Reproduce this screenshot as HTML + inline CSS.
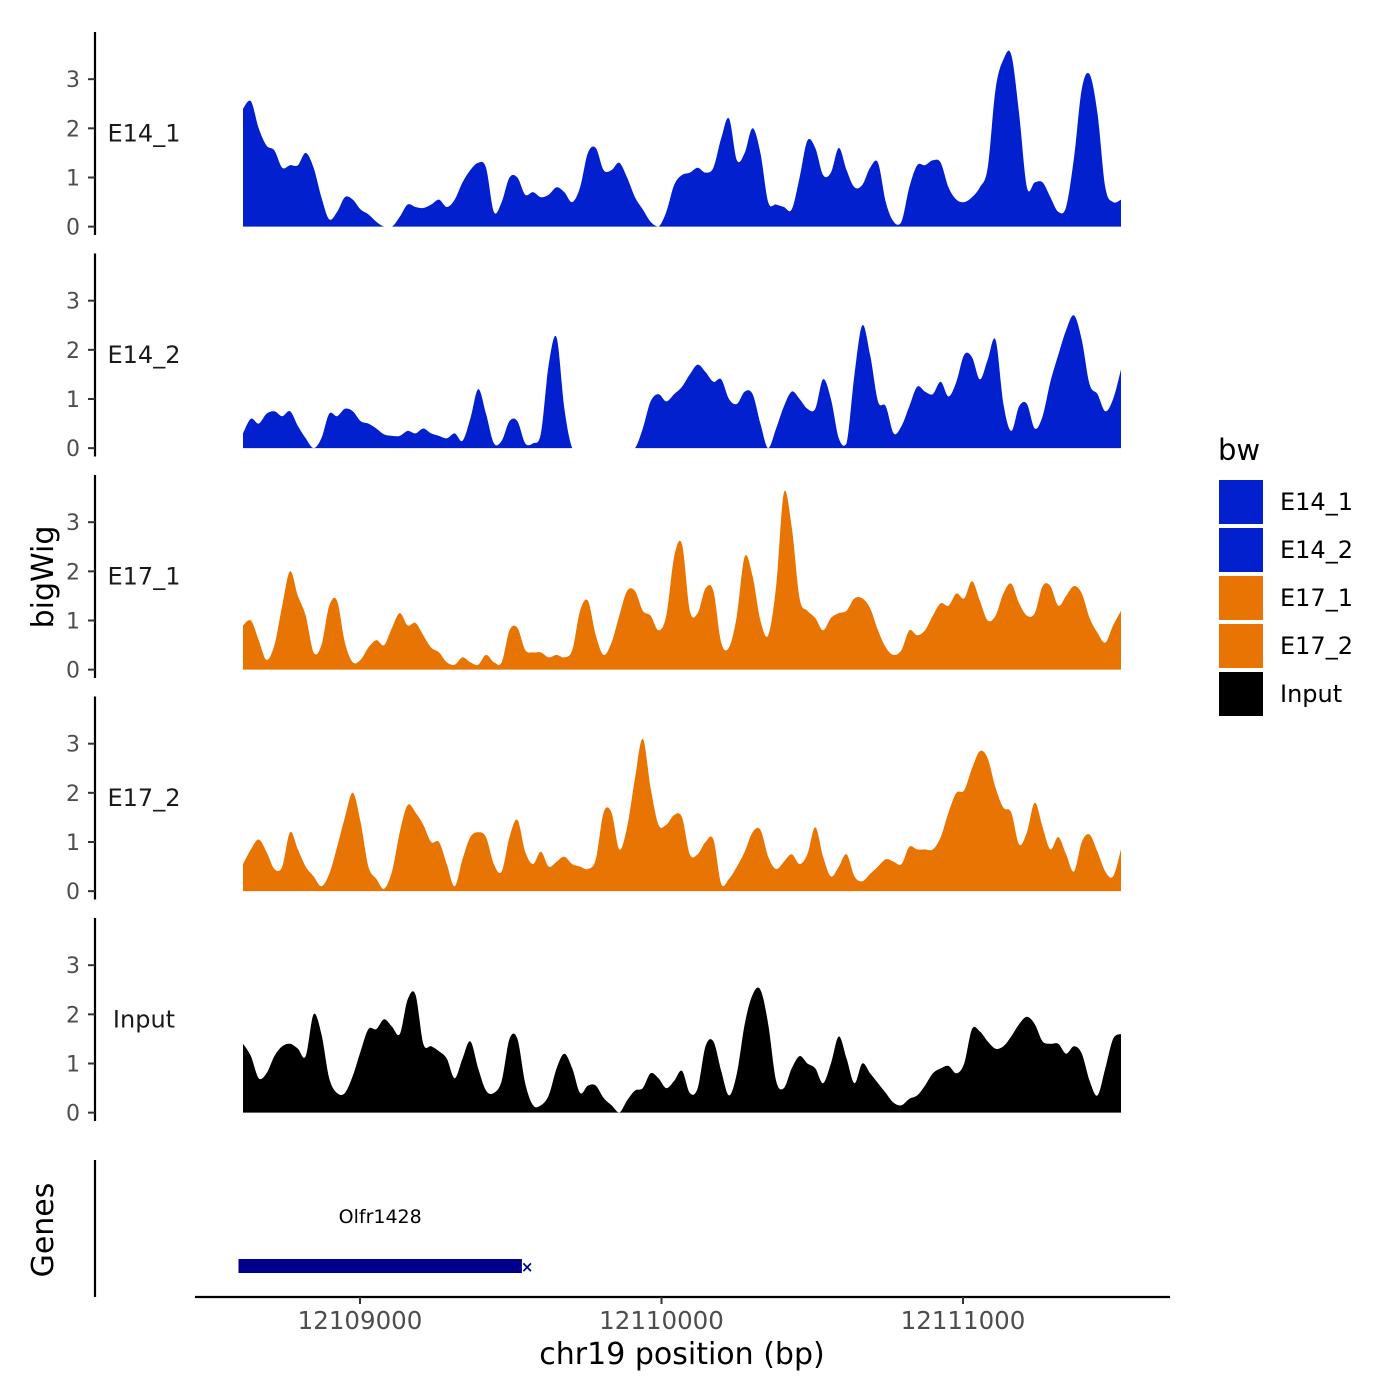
<!DOCTYPE html>
<html><head><meta charset="utf-8"><style>
html,body{margin:0;padding:0;background:#fff;}
svg{display:block;font-family:"DejaVu Sans","Liberation Sans",sans-serif;}
</style></head><body>
<svg id="chart" width="1400" height="1400" viewBox="0 0 1400 1400">
<rect x="0" y="0" width="1400" height="1400" fill="#fff"/>
<g id="panels"></g>
<g id="genes"></g>
<g id="xaxis"></g>
<text x="53" y="577" transform="rotate(-90 53 577)" text-anchor="middle" font-size="30" fill="#000">bigWig</text>
<text x="53" y="1230" transform="rotate(-90 53 1230)" text-anchor="middle" font-size="30" fill="#000">Genes</text>
<text x="682" y="1364" text-anchor="middle" font-size="30" fill="#000">chr19 position (bp)</text>
<g id="legend"></g>
</svg>
<script>
const trackNames = ["E14_1","E14_2","E17_1","E17_2","Input"];
const trackColors = ["#0320CF","#0320CF","#E87503","#E87503","#000000"];
const yTicks = [0,1,2,3];
const xTicks = [12109000,12110000,12111000];
const xTickLabels = ["12109000","12110000","12111000"];
const startBp = 12108612;
const stepBp = 26;
const e14_1 = [2.4,2.55,2.0,1.65,1.55,1.2,1.25,1.25,1.5,1.2,0.6,0.15,0.3,0.6,0.55,0.35,0.25,0.1,0,0,0.2,0.45,0.4,0.38,0.45,0.55,0.4,0.55,0.9,1.15,1.3,1.2,0.3,0.5,1.0,1.0,0.65,0.7,0.6,0.65,0.8,0.7,0.5,0.8,1.5,1.6,1.15,1.15,1.3,1.0,0.6,0.35,0.1,0,0.3,0.85,1.05,1.1,1.2,1.1,1.2,1.8,2.2,1.35,1.5,2.0,1.5,0.5,0.45,0.4,0.35,1.0,1.75,1.6,1.05,1.1,1.6,1.15,0.8,0.85,1.2,1.3,0.5,0.1,0.1,0.8,1.25,1.25,1.35,1.3,0.8,0.55,0.5,0.6,0.8,1.2,2.8,3.4,3.5,2.3,0.8,0.9,0.9,0.6,0.3,0.4,1.4,2.8,3.1,2.3,0.8,0.5,0.55];
const e14_2 = [0.3,0.6,0.5,0.7,0.75,0.65,0.75,0.45,0.2,0,0.2,0.7,0.65,0.8,0.75,0.55,0.5,0.4,0.28,0.25,0.25,0.35,0.3,0.4,0.3,0.25,0.2,0.3,0.15,0.6,1.2,0.7,0.1,0.15,0.55,0.55,0.1,0.1,0.3,1.7,2.25,0.8,0,0,0,0,0,0,0,0,0,0.4,0.95,1.1,0.95,1.1,1.25,1.5,1.7,1.55,1.35,1.4,1.0,0.9,1.15,1.1,0.5,0,0.4,0.85,1.15,1.0,0.8,0.8,1.4,1.0,0.2,0.1,1.5,2.5,1.9,0.95,0.85,0.3,0.45,0.85,1.25,1.15,1.1,1.35,1.05,1.35,1.9,1.85,1.4,1.8,2.2,0.9,0.35,0.85,0.9,0.4,0.65,1.35,1.9,2.4,2.7,2.2,1.3,1.1,0.75,1.0,1.6];
const e17_1 = [0.9,1.0,0.6,0.2,0.5,1.3,2.0,1.5,1.1,0.35,0.5,1.3,1.4,0.55,0.15,0.2,0.45,0.6,0.5,0.85,1.15,0.9,0.95,0.7,0.45,0.35,0.15,0.1,0.25,0.15,0.1,0.3,0.15,0.15,0.8,0.85,0.4,0.35,0.35,0.25,0.3,0.25,0.4,1.2,1.4,0.7,0.3,0.55,1.1,1.6,1.6,1.2,1.1,0.8,1.1,2.3,2.55,1.2,1.15,1.65,1.6,0.55,0.45,1.1,2.3,1.9,1.0,0.7,1.7,3.6,2.9,1.45,1.2,1.05,0.8,1.05,1.15,1.2,1.45,1.45,1.25,0.8,0.45,0.3,0.4,0.8,0.7,0.8,1.1,1.35,1.3,1.55,1.45,1.8,1.4,1.0,1.1,1.55,1.75,1.35,1.1,1.15,1.7,1.7,1.3,1.5,1.7,1.55,1.05,0.75,0.55,0.9,1.2];
const e17_2 = [0.55,0.85,1.05,0.8,0.45,0.5,1.2,0.85,0.5,0.3,0.1,0.35,0.9,1.5,2.0,1.4,0.5,0.25,0.05,0.4,1.2,1.75,1.6,1.35,1.0,1.0,0.55,0.1,0.65,1.1,1.2,1.1,0.55,0.4,1.1,1.45,0.8,0.55,0.8,0.5,0.6,0.7,0.55,0.5,0.45,0.65,1.6,1.6,0.85,1.3,2.3,3.1,2.1,1.35,1.35,1.55,1.5,0.75,0.75,1.0,1.05,0.15,0.25,0.5,0.8,1.2,1.25,0.7,0.45,0.6,0.75,0.55,0.75,1.3,0.7,0.3,0.5,0.75,0.3,0.2,0.35,0.5,0.65,0.6,0.55,0.9,0.85,0.85,0.85,1.1,1.6,2.0,2.05,2.5,2.85,2.7,2.1,1.7,1.6,0.95,1.2,1.8,1.3,0.85,1.1,0.75,0.4,1.0,1.15,0.8,0.4,0.3,0.85];
const input = [1.4,1.15,0.7,0.8,1.15,1.35,1.4,1.3,1.15,2.0,1.6,0.7,0.4,0.4,0.75,1.25,1.7,1.7,1.9,1.75,1.6,2.3,2.4,1.4,1.35,1.25,1.1,0.7,1.1,1.45,0.9,0.45,0.4,0.65,1.5,1.5,0.6,0.15,0.15,0.35,0.9,1.2,0.9,0.4,0.55,0.55,0.3,0.15,0,0.25,0.45,0.5,0.8,0.7,0.5,0.65,0.85,0.4,0.5,1.35,1.45,0.85,0.35,0.8,1.8,2.4,2.5,1.8,0.65,0.5,0.9,1.15,1.0,0.9,0.6,1.0,1.55,1.1,0.6,1.0,0.8,0.6,0.4,0.2,0.15,0.28,0.35,0.55,0.8,0.9,0.95,0.8,1.0,1.7,1.65,1.45,1.3,1.35,1.55,1.8,1.95,1.8,1.45,1.4,1.4,1.2,1.35,1.2,0.65,0.35,0.9,1.5,1.6];
const series = [e14_1,e14_2,e17_1,e17_2,input];
const geneName = "Olfr1428";
const geneStart = 12108597;
const geneEnd = 12109537;

const NS = "http://www.w3.org/2000/svg";
function mk(tag, attrs, parent){const e=document.createElementNS(NS,tag);for(const k in attrs)e.setAttribute(k,attrs[k]);parent.appendChild(e);return e;}
function xScale(bp){return 360 + (bp-12109000)*0.3015;}
const panelTop0 = 32, panelH = 221.5, yMax = 3.96, yMin = -0.17;
function yScale(v, i){const top = panelTop0 + i*panelH; const h = 203; return top + (yMax - v)/(yMax - yMin)*h;}

const panels = document.getElementById('panels');
series.forEach((vals, i) => {
  const g = mk('g', {}, panels);
  
  
  const top = panelTop0 + i*panelH;
  const axis = mk('line', {x1:95, x2:95, y1:top, y2:top+203, stroke:'#000', 'stroke-width':2.2}, g);
  
  
  yTicks.forEach(t => {
    const y = yScale(t, i);
    const tk = mk('line', {x1:88, x2:95, y1:y, y2:y, stroke:'#333', 'stroke-width':2}, g);
    
    
    const tl = mk('text', {x:80, y:y+8, 'text-anchor':'end', 'font-size':22, fill:'#4d4d4d'}, g);
    tl.textContent = String(t);
    
    
  });
  const lab = mk('text', {x:144, y:yScale(1.9, i)+8, 'text-anchor':'middle', 'font-size':24, fill:'#1a1a1a'}, g);
  lab.textContent = trackNames[i];
  
  
  const y0 = yScale(0, i);
  const pts = vals.map((v, k) => [xScale(startBp + k*stepBp), yScale(v, i)]);
  let d = 'M' + pts[0][0].toFixed(1) + ',' + y0.toFixed(1) + 'L' + pts[0][0].toFixed(1) + ',' + pts[0][1].toFixed(1);
  for (let k = 0; k < pts.length-1; k++) {
    const p0 = pts[Math.max(0,k-1)], p1 = pts[k], p2 = pts[k+1], p3 = pts[Math.min(pts.length-1,k+2)];
    let c1y = p1[1] + (p2[1]-p0[1])/6, c2y = p2[1] - (p3[1]-p1[1])/6;
    c1y = Math.min(c1y, y0); c2y = Math.min(c2y, y0);
    const c1x = p1[0] + (p2[0]-p0[0])/6, c2x = p2[0] - (p3[0]-p1[0])/6;
    d += 'C' + c1x.toFixed(1) + ',' + c1y.toFixed(1) + ' ' + c2x.toFixed(1) + ',' + c2y.toFixed(1) + ' ' + p2[0].toFixed(1) + ',' + p2[1].toFixed(1);
  }
  d += 'L' + pts[pts.length-1][0].toFixed(1) + ',' + y0.toFixed(1) + 'Z';
  const area = mk('path', {d:d, fill:trackColors[i], stroke:'none'}, g);
  
  
});

const genes = document.getElementById('genes');
const gAxis = mk('line', {x1:95, x2:95, y1:1160, y2:1297, stroke:'#000', 'stroke-width':2.2}, genes);


const gBar = mk('rect', {x:xScale(geneStart), y:1259, width:xScale(geneEnd)-xScale(geneStart), height:14, fill:'#00008B'}, genes);


const gEnd = mk('text', {x:xScale(geneEnd)-1, y:1272, 'font-size':15, 'font-weight':'bold', fill:'#00008B'}, genes);
gEnd.textContent = '×';


const gLab = mk('text', {x:(xScale(geneStart)+xScale(geneEnd))/2, y:1223, 'text-anchor':'middle', 'font-size':19, fill:'#000'}, genes);
gLab.textContent = geneName;



const xaxis = document.getElementById('xaxis');
const xl = mk('line', {x1:195, x2:1170, y1:1297, y2:1297, stroke:'#000', 'stroke-width':2.2}, xaxis);


xTicks.forEach((t, j) => {
  const x = xScale(t);
  const tk = mk('line', {x1:x, x2:x, y1:1297, y2:1304, stroke:'#333', 'stroke-width':2}, xaxis);
  
  
  const tl = mk('text', {x:x, y:1329, 'text-anchor':'middle', 'font-size':24.5, fill:'#4d4d4d'}, xaxis);
  tl.textContent = xTickLabels[j];
  
  
});

const legend = document.getElementById('legend');
const lt = mk('text', {x:1218, y:460, 'font-size':29, fill:'#000'}, legend);
lt.textContent = 'bw';


trackNames.forEach((n, i) => {
  const y = 480 + i*48;
  const sw = mk('rect', {x:1219, y:y, width:44, height:44, fill:trackColors[i]}, legend);
  
  
  const tx = mk('text', {x:1280, y:y+30, 'font-size':24, fill:'#000'}, legend);
  tx.textContent = n;
  
  
});
</script>
</body></html>
